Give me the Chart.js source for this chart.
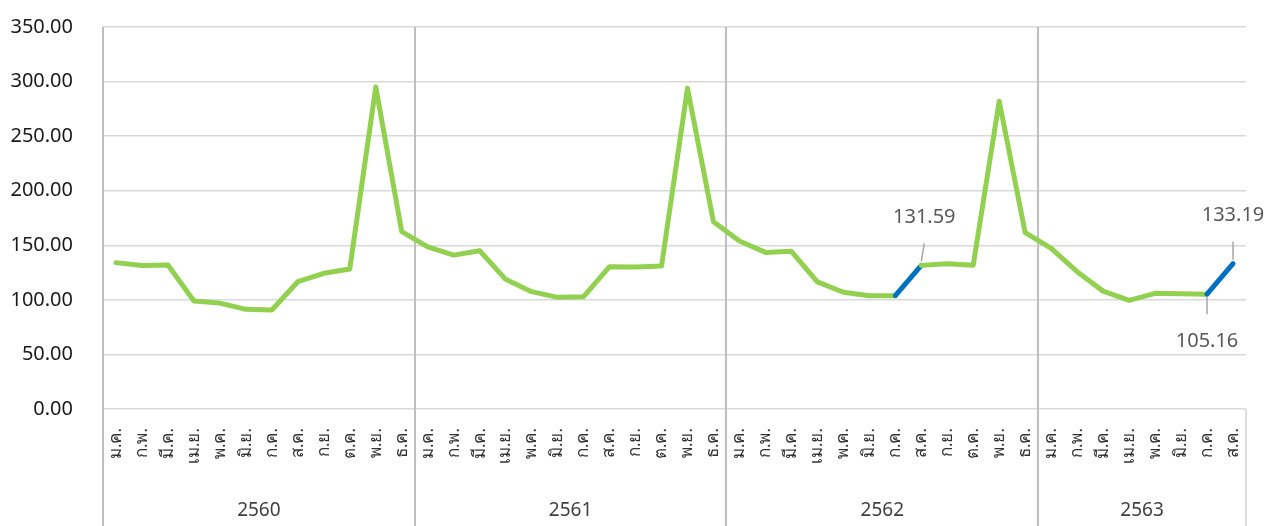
<!DOCTYPE html>
<html>
<head>
<meta charset="utf-8">
<script src="https://cdn.jsdelivr.net/npm/chart.js@4.4.0/dist/chart.umd.min.js"></script>
<style>
  html, body { margin: 0; padding: 0; background: #fff; }
</style>
</head>
<body>
<canvas id="priceChart" width="1276" height="526"></canvas>
<script>
// ข้อมูลรายเดือน แยกตามปี
const monthNames = ['ม.ค.', 'ก.พ.', 'มี.ค.', 'เม.ย.', 'พ.ค.', 'มิ.ย.', 'ก.ค.', 'ส.ค.', 'ก.ย.', 'ต.ค.', 'พ.ย.', 'ธ.ค.'];
const years = ['2560', '2561', '2562', '2563'];
const values2560 = [134.1, 131.5, 132.0, 99.0, 97.0, 91.3, 90.7, 116.6, 124.3, 128.3, 295.0, 162.5];
const values2561 = [148.5, 141.0, 145.0, 118.8, 107.5, 102.3, 102.9, 130.4, 130.0, 131.0, 293.8, 171.6];
const values2562 = [154.0, 143.5, 144.5, 116.5, 107.0, 103.8, 103.8, 131.59, 133.0, 131.8, 282.0, 161.6];
const values2563 = [147.2, 125.8, 108.0, 99.5, 106.0, 105.6, 105.16, 133.19];
const yTicks = [0, 50, 100, 150, 200, 250, 300, 350];

const yearValues = [values2560, values2561, values2562, values2563];
const labels = [];
const values = [];
const groupStart = [];
yearValues.forEach((vals) => {
  groupStart.push(labels.length);
  vals.forEach((v, m) => { labels.push(monthNames[m]); values.push(v); });
});
const total = labels.length;
// กึ่งกลางของแต่ละปี (ใช้วางป้ายปี)
const yearCenters = yearValues.map((vals, i) => groupStart[i] + (vals.length - 1) / 2);

// ช่วง ก.ค. -> ส.ค. ที่เน้นสีน้ำเงิน
const highlightFrom = [groupStart[2] + 6, groupStart[3] + 6];
const calloutIdx = [groupStart[2] + 7, groupStart[3] + 6, groupStart[3] + 7];

const FONT = '"Noto Sans", sans-serif';

// เส้นแบ่งปี
const dividerPlugin = {
  id: 'dividers',
  beforeDatasetsDraw(chart) {
    const { ctx, chartArea, scales } = chart;
    const x2 = scales.x2;
    ctx.save();
    ctx.strokeStyle = '#bfbfbf';
    ctx.lineWidth = 2;
    groupStart.forEach(s => {
      const px = Math.round(x2.getPixelForValue(s - 0.5));
      ctx.beginPath();
      ctx.moveTo(px, chartArea.top);
      ctx.lineTo(px, chart.height);
      ctx.stroke();
    });
    const right = Math.round(x2.getPixelForValue(total - 0.5));
    ctx.lineWidth = 1.5;
    ctx.strokeStyle = '#d0d0d0';
    ctx.beginPath();
    ctx.moveTo(right, chartArea.bottom);
    ctx.lineTo(right, chart.height);
    ctx.stroke();
    ctx.restore();
  }
};

// ป้ายค่าพร้อมเส้นชี้
const calloutPlugin = {
  id: 'callouts',
  afterDatasetsDraw(chart) {
    const { ctx } = chart;
    const pts = chart.getDatasetMeta(0).data;
    ctx.save();
    ctx.font = '20px ' + FONT;
    ctx.fillStyle = '#595959';
    ctx.strokeStyle = '#a6a6a6';
    ctx.lineWidth = 1.5;
    ctx.textAlign = 'center';
    ctx.textBaseline = 'middle';
    calloutIdx.forEach((i, k) => {
      const p = pts[i];
      ctx.beginPath();
      if (k === 1) {
        // ป้ายอยู่ใต้จุด
        ctx.moveTo(p.x, p.y + 2);
        ctx.lineTo(p.x, p.y + 20);
        ctx.stroke();
        ctx.fillText(values[i].toFixed(2), p.x, p.y + 47);
      } else {
        const lean = k === 0 ? 3 : 0;
        ctx.moveTo(p.x, p.y - 4);
        ctx.lineTo(p.x + lean, p.y - 22);
        ctx.stroke();
        ctx.fillText(values[i].toFixed(2), p.x + lean, p.y - 48);
      }
    });
    ctx.restore();
  }
};

const ctx = document.getElementById('priceChart').getContext('2d');
const priceChart = new Chart(ctx, {
  type: 'line',
  data: {
    labels: labels,
    datasets: [{
      data: values,
      borderColor: '#92D050',
      borderWidth: 5,
      borderCapStyle: 'round',
      borderJoinStyle: 'round',
      pointRadius: 0,
      tension: 0,
      segment: {
        borderColor: c => highlightFrom.includes(c.p0DataIndex) ? '#0070C0' : undefined
      }
    }]
  },
  options: {
    responsive: false,
    animation: false,
    layout: { padding: { left: 0, right: 30, top: 27, bottom: 0 } },
    plugins: { legend: { display: false }, tooltip: { enabled: false } },
    scales: {
      y: {
        min: 0,
        max: 350,
        afterBuildTicks: axis => { axis.ticks = yTicks.map(v => ({ value: v })); },
        afterFit: axis => { axis.width = 103; axis.paddingTop = 0; axis.paddingBottom = 0; },
        ticks: {
          callback: v => Number(v).toFixed(2),
          font: { family: FONT, size: 20 },
          color: '#1a1a1a',
          padding: 30
        },
        grid: { color: '#d9d9d9', lineWidth: 1.5, drawTicks: false },
        border: { display: false }
      },
      x: {
        type: 'category',
        offset: true,
        afterFit: axis => { axis.height = 58; },
        grid: { display: false, drawTicks: false },
        border: { display: false },
        ticks: {
          autoSkip: false,
          minRotation: 90,
          maxRotation: 90,
          font: { family: FONT, size: 17 },
          color: '#333333',
          padding: 19
        }
      },
      x2: {
        type: 'linear',
        position: 'bottom',
        weight: 1,
        min: -0.5,
        max: total - 0.5,
        afterBuildTicks: axis => { axis.ticks = yearCenters.map(v => ({ value: v })); },
        afterFit: axis => { axis.height = 59; },
        ticks: {
          callback: (v, i) => years[i],
          font: { family: FONT, size: 19 },
          color: '#404040',
          padding: 32,
          maxRotation: 0
        },
        grid: { display: false, drawTicks: false },
        border: { display: false }
      }
    }
  },
  plugins: [dividerPlugin, calloutPlugin]
});
</script>
</body>
</html>
